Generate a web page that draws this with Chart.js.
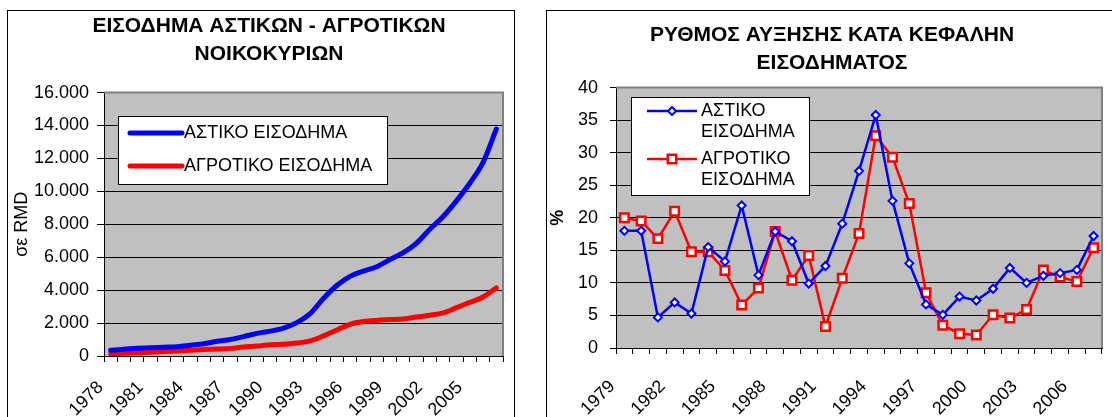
<!DOCTYPE html>
<html>
<head>
<meta charset="utf-8">
<script src="https://cdn.jsdelivr.net/npm/chart.js@4.4.0/dist/chart.umd.min.js"></script>
<style>
body { margin: 0; background: #fff; overflow: hidden; width: 1112px; height: 417px; position: relative; }
.frame { position: absolute; border: 1px solid #000; box-sizing: border-box; }
#leftFrame { left: 7px; top: 10px; width: 508px; height: 430px; }
#rightFrame { left: 546px; top: 10px; width: 572px; height: 430px; }
canvas { display: block; }
</style>
</head>
<body>
<div class="frame" id="leftFrame"><canvas id="income" width="522" height="406"></canvas></div>
<div class="frame" id="rightFrame"><canvas id="growth" width="570" height="406"></canvas></div>
<script>
// income per head, RMD
var incomeYears = ["1978", "1979", "1980", "1981", "1982", "1983", "1984", "1985", "1986", "1987",
    "1988", "1989", "1990", "1991", "1992", "1993", "1994", "1995", "1996", "1997",
    "1998", "1999", "2000", "2001", "2002", "2003", "2004", "2005", "2006", "2007"];
var urbanIncome = [343, 405, 478, 500, 535, 565, 652, 739, 900, 1002,
    1180, 1374, 1510, 1700, 2027, 2577, 3496, 4283, 4839, 5160,
    5425, 5854, 6280, 6860, 7703, 8472, 9422, 10493, 11759, 13786];
var ruralIncome = [134, 160, 191, 223, 270, 310, 355, 398, 424, 463,
    545, 602, 686, 709, 784, 922, 1221, 1578, 1926, 2090,
    2162, 2210, 2253, 2366, 2476, 2622, 2936, 3255, 3587, 4140];

// growth rate, %
var growthYears = ["1979", "1980", "1981", "1982", "1983", "1984", "1985", "1986", "1987", "1988",
    "1989", "1990", "1991", "1992", "1993", "1994", "1995", "1996", "1997", "1998",
    "1999", "2000", "2001", "2002", "2003", "2004", "2005", "2006", "2007"];
var urbanGrowth = [18.0, 18.0, 4.7, 7.0, 5.3, 15.5, 13.3, 21.9, 11.2, 17.9,
    16.4, 9.9, 12.6, 19.1, 27.2, 35.8, 22.6, 13.0, 6.7, 5.1,
    7.9, 7.3, 9.1, 12.3, 10.0, 11.1, 11.5, 12.0, 17.2];
var ruralGrowth = [20.0, 19.5, 16.8, 21.0, 14.8, 14.8, 11.9, 6.6, 9.2, 17.9,
    10.4, 14.2, 3.3, 10.7, 17.6, 32.6, 29.3, 22.2, 8.5, 3.5,
    2.2, 2.0, 5.1, 4.6, 5.9, 12.0, 10.9, 10.2, 15.4];

var seriesNames = ["ΑΣΤΙΚΟ ΕΙΣΟΔΗΜΑ", "ΑΓΡΟΤΙΚΟ ΕΙΣΟΔΗΜΑ"];

Chart.defaults.font.family = "'Liberation Sans', Arial, sans-serif";
Chart.defaults.color = "#000";

function dotThousands(v) {
    return String(v).replace(/\B(?=(\d{3})+(?!\d))/g, ".");
}

function everyThird(val, idx) {
    return idx % 3 === 0 ? this.getLabelForValue(val) : "";
}

// pin the x axis box so the plot lands where the excel one is
function fixX(h, right) {
    return function (s) {
        s.height = h;
        s.paddingLeft = 0;
        s.paddingRight = right;
    };
}

// grey plot area like excel
var plotBg = {
    id: "plotBg",
    beforeDraw: function (chart) {
        var a = chart.chartArea, ctx = chart.ctx;
        ctx.save();
        ctx.fillStyle = "#c0c0c0";
        ctx.fillRect(a.left, a.top, a.right - a.left, a.bottom - a.top);
        ctx.restore();
    },
    beforeDatasetsDraw: function (chart) {
        var a = chart.chartArea, ctx = chart.ctx;
        ctx.save();
        ctx.strokeStyle = "#808080";
        ctx.lineWidth = 2;
        ctx.beginPath();
        ctx.moveTo(a.left, a.top);
        ctx.lineTo(a.right, a.top);
        ctx.lineTo(a.right, a.bottom);
        ctx.stroke();
        ctx.restore();
    }
};

// legend box inside plot
var boxLegend = {
    id: "boxLegend",
    afterDatasetsDraw: function (chart, args, o) {
        var ctx = chart.ctx;
        var gap = o.lineGap || 0;
        ctx.save();
        ctx.fillStyle = "#fff";
        ctx.fillRect(o.x, o.y, o.w, o.h);
        ctx.strokeStyle = "#000";
        ctx.lineWidth = 1;
        ctx.strokeRect(o.x + 0.5, o.y + 0.5, o.w, o.h);
        ctx.font = o.fontSize + "px 'Liberation Sans', Arial, sans-serif";
        ctx.textBaseline = "middle";
        chart.data.datasets.forEach(function (ds, i) {
            var y = o.rowY[i];
            ctx.strokeStyle = ds.borderColor;
            ctx.lineWidth = ds.borderWidth;
            ctx.lineCap = o.round ? "round" : "butt";
            ctx.beginPath();
            ctx.moveTo(o.lineX, y);
            ctx.lineTo(o.lineX + o.lineW, y);
            ctx.stroke();
            var cx = o.lineX + o.lineW / 2, r = ds.pointRadius;
            if (ds.pointStyle === "rectRot") {
                ctx.beginPath();
                ctx.moveTo(cx, y - r); ctx.lineTo(cx + r, y);
                ctx.lineTo(cx, y + r); ctx.lineTo(cx - r, y);
                ctx.closePath();
                ctx.fillStyle = "#fff"; ctx.fill();
                ctx.lineWidth = ds.pointBorderWidth; ctx.stroke();
            } else if (ds.pointStyle === "rect") {
                var s = Math.SQRT1_2 * r;
                ctx.fillStyle = "#fff";
                ctx.fillRect(cx - s, y - s, 2 * s, 2 * s);
                ctx.lineWidth = ds.pointBorderWidth;
                ctx.strokeRect(cx - s, y - s, 2 * s, 2 * s);
            }
            var lines = o.wrap ? ds.label.split(" ") : [ds.label];
            ctx.fillStyle = "#000";
            lines.forEach(function (t, j) {
                ctx.fillText(t, o.textX, y + j * gap);
            });
        });
        ctx.restore();
    }
};

new Chart(document.getElementById("income").getContext("2d"), {
    type: "line",
    data: {
        labels: incomeYears,
        datasets: [
            {
                label: seriesNames[0],
                data: urbanIncome,
                borderColor: "#0000ff",
                borderWidth: 5,
                pointRadius: 0,
                cubicInterpolationMode: "monotone",
                borderCapStyle: "round"
            },
            {
                label: seriesNames[1],
                data: ruralIncome,
                borderColor: "#ff0000",
                borderWidth: 5,
                pointRadius: 0,
                cubicInterpolationMode: "monotone",
                borderCapStyle: "round"
            }
        ]
    },
    options: {
        responsive: false,
        animation: false,
        plugins: {
            legend: { display: false },
            tooltip: { enabled: false },
            title: {
                display: true,
                text: ["ΕΙΣΟΔΗΜΑ ΑΣΤΙΚΩΝ - ΑΓΡΟΤΙΚΩΝ", "ΝΟΙΚΟΚΥΡΙΩΝ"],
                font: { size: 21, weight: "bold", lineHeight: 1.3 },
                color: "#000",
                padding: { top: 2, bottom: 25 }
            },
            boxLegend: { x: 110, y: 105, w: 269, h: 68, lineX: 122, lineW: 52, textX: 176, rowY: [122, 155], round: true, fontSize: 18 }
        },
        scales: {
            x: {
                offset: true,
                grid: { drawOnChartArea: false, offset: true, color: "#000", tickLength: 6 },
                border: { color: "#000" },
                ticks: { autoSkip: false, minRotation: 45, maxRotation: 45, font: { size: 18 }, padding: 15, labelOffset: -10, callback: everyThird },
                afterFit: fixX(61, 27)
            },
            y: {
                min: 0,
                max: 16000,
                ticks: { stepSize: 2000, font: { size: 18 }, padding: 8, callback: dotThousands },
                grid: { color: "#000", tickLength: 7 },
                border: { color: "#000" },
                title: { display: true, text: "σε RMD", font: { size: 18 }, padding: { top: 3 } },
                afterFit: function (s) { s.width = 96; }
            }
        }
    },
    plugins: [plotBg, boxLegend]
});

new Chart(document.getElementById("growth").getContext("2d"), {
    type: "line",
    data: {
        labels: growthYears,
        datasets: [
            {
                label: seriesNames[0],
                data: urbanGrowth,
                borderColor: "#0000ff",
                borderWidth: 2.5,
                pointStyle: "rectRot",
                pointRadius: 4,
                pointBorderWidth: 2,
                pointBackgroundColor: "#fff",
                pointBorderColor: "#0000ff",
                tension: 0
            },
            {
                label: seriesNames[1],
                data: ruralGrowth,
                borderColor: "#ff0000",
                borderWidth: 2.5,
                pointStyle: "rect",
                pointRadius: 6,
                pointBorderWidth: 2.5,
                pointBackgroundColor: "#fff",
                pointBorderColor: "#ff0000",
                tension: 0
            }
        ]
    },
    options: {
        responsive: false,
        animation: false,
        plugins: {
            legend: { display: false },
            tooltip: { enabled: false },
            title: {
                display: true,
                text: ["ΡΥΘΜΟΣ ΑΥΞΗΣΗΣ ΚΑΤΑ ΚΕΦΑΛΗΝ", "ΕΙΣΟΔΗΜΑΤΟΣ"],
                font: { size: 21, weight: "bold", lineHeight: 1.3 },
                color: "#000",
                padding: { top: 11, bottom: 11 }
            },
            boxLegend: { x: 84, y: 86, w: 178, h: 98, lineX: 100, lineW: 50, textX: 154, rowY: [100, 148], wrap: true, lineGap: 21.5, fontSize: 18 }
        },
        scales: {
            x: {
                offset: true,
                grid: { drawOnChartArea: false, offset: true, color: "#000", tickLength: 6 },
                border: { color: "#000" },
                ticks: { autoSkip: false, minRotation: 45, maxRotation: 45, font: { size: 18 }, padding: 22, labelOffset: -12, callback: everyThird },
                afterFit: fixX(69, 15)
            },
            y: {
                min: 0,
                max: 40,
                ticks: { stepSize: 5, font: { size: 18 }, padding: 12 },
                grid: { color: "#000", tickLength: 6 },
                border: { color: "#000" },
                title: { display: true, text: "%", font: { size: 18, weight: "bold" }, padding: 0 },
                afterFit: function (s) { s.width = 69; }
            }
        }
    },
    plugins: [plotBg, boxLegend]
});
</script>
</body>
</html>
